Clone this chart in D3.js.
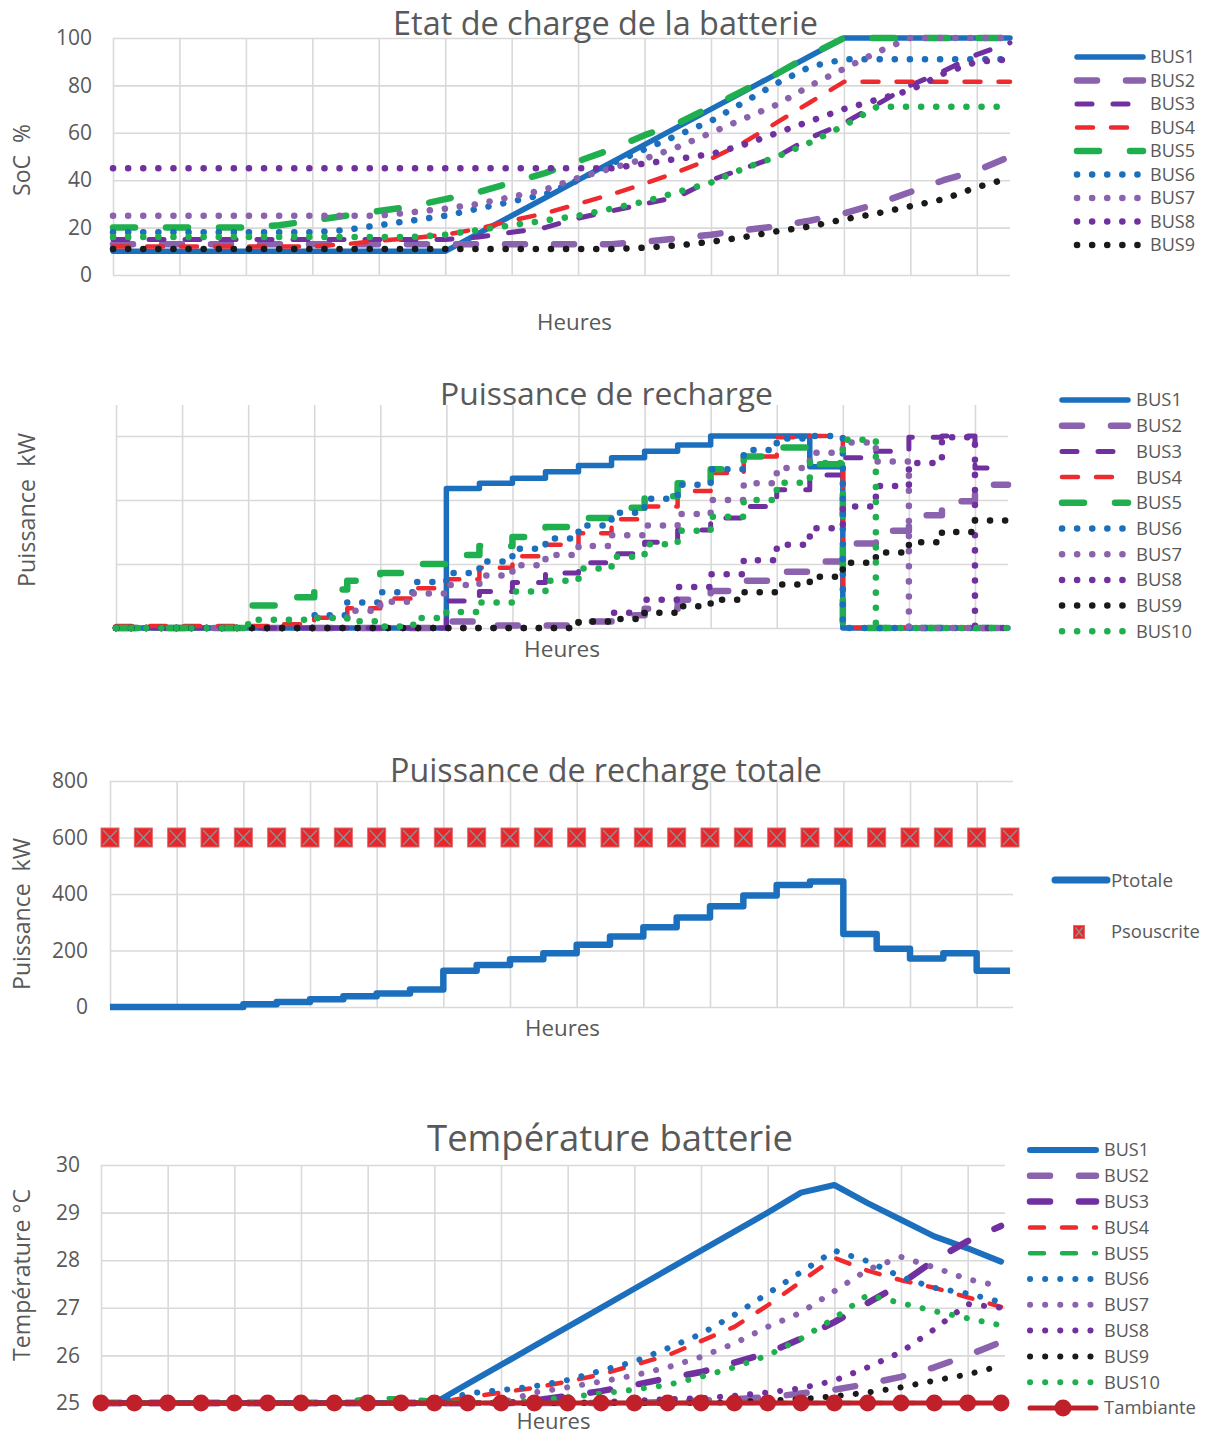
<!DOCTYPE html>
<html><head><meta charset="utf-8">
<script src="https://cdn.jsdelivr.net/npm/d3@7"></script>
<style>body{margin:0;background:#fff}svg{display:block}text{white-space:pre}</style>
</head><body>
<script>
// ---------- DATA ----------
const hours = [0,1,2,3,4,5,6,7,8,9,10,11,12,13,14,15,16,17,18,19,20,21,22,23,24,25,26,27];
const gridHours = [0,2,4,6,8,10,12,14,16,18,20,22,24,26];
const busNames = ["BUS1","BUS2","BUS3","BUS4","BUS5","BUS6","BUS7","BUS8","BUS9","BUS10"];

// Etat de charge (SoC %)
const soc1 = [10,10,10,10,10,10,10,10,10,10,10,17.5,25,32.5,40,47.5,55,62.5,70,77.5,85,92.5,100,100,100,100,100,100];
const soc2 = [13,13,13,13,13,13,13,13,13,13,13,13,13,13,13,13,14,15.5,17,19,20.5,23,26,30,35,40,44,50];
const soc3 = [15,15,15,15,15,15,15,15,15,15,15,16,18,20,24,27,30,33,40,45,50,58,64,72,80,86,93,98];
const soc4 = [12,12,12,12,12,12,12,13,14.5,15.5,17,19.5,23,26,30,34,38.5,43.5,49,56,64.5,73,81.5,81.5,81.5,81.5,81.5,81.5];
const soc5 = [20,20,20,20,20,21,23,25,27,29,32,35,39,43,48,53,59,64,71,78,85,93,100,100,100,100,100,100];
const soc6 = [18,18,18,18,18,18,18,19,21,23,25,28,31,34,40,47,53,59,65,73,81,88,91,91,91,91,91,91];
const soc7 = [25,25,25,25,25,25,25,25,25,26.5,28,30,33,36,41,45,49,54,60,66,72,80,87,94,100,100,100,100];
const soc8 = [45,45,45,45,45,45,45,45,45,45,45,45,45,45,45,45,47,49,51,55,60,65,70,74,78,85,90,91];
const soc9 = [11,11,11,11,11,11,11,11,11,11,11,11,11,11,11,11,11.5,12.5,14,16,18.5,20.5,23.5,26,29,32,37,41];
const soc10 = [16,16,16,16,16,16,16,16,16,16,17,19,21,23,25,28,31,35,39,45,50,56,63,71,71,71,71,71];

// Puissance de recharge (kW)
const pw1 = [0,0,0,0,0,0,0,0,0,0,43.6,45.2,46.8,48.8,50.8,53.2,55.2,57.2,60,60,60,50.4,0,0,0,0,0,0];
const pw2 = [0,0,0,0,0,0,0,0,0,0,2,0.8,0.8,0.8,2,4,6,8.8,11.6,14.8,17.6,20.8,26.4,30.4,35.2,39.6,44.8,44.8];
const pw3 = [0,0,0,0,0,0,0,0,0,0,8.4,11.4,14.2,17.2,20.4,23.2,26.8,30.6,34.4,38,43.2,47.8,53.2,55.2,59.6,60,50,50];
const pw4 = [0.6,0.6,0.6,0.6,0.6,1.2,3.2,6.2,9.2,12.4,15.2,18.8,22.4,26,29.6,34,38,42.8,48.4,53.6,59.6,60,0,0,0,0,0,0];
const pw5 = [0,0,0,0,7,9.6,12,14.8,17.2,20,22.8,25.6,28.4,31.6,34.4,37.6,41.2,45.2,49.6,53.6,56.4,51.2,0,0,0,0,0,0];
const pw6 = [0,0,0,0,0,0,4,8,11.2,14.4,17.2,20.8,24.8,28,32,36,40.4,44.8,49.6,55.6,59.2,60,0,0,0,0,0,0];
const pw7 = [0,0,0,0,0,0,3.2,5.4,8.2,10.8,13.4,16.4,19.6,22.8,25.6,29,32,35.6,40,45.2,50,54.8,58,52,0,0,0,0];
const pw8 = [0,0,0,0,0,0,0,0,0,0,0,0,0,0,2,4.8,8.8,12.8,16.8,21.2,26,31.2,38,44.4,51.6,59.6,0,0];
const pw9 = [0,0,0,0,0,0,0,0,0,0,0,0,0,0,2,2.8,4.8,6.8,8.8,11.2,13.6,16,20.4,23.6,26.8,30,33.6,33.6];
const pw10 = [0,0,0,0,2.6,2.6,3.1,2.1,0.5,3.1,5,8,11.4,14.8,18.6,22.3,26.2,30.4,34.8,40,45.4,51.6,58.8,0,0,0,0,0];

// Puissance de recharge totale (kW)
const pTotale = [0,0,0,0,10,18,27,38,48,62,128,149,169,190,220,250,282,317,357,395,432,444,258,206,172,190,128,128];
const pSouscrite = [600,600,600,600,600,600,600,600,600,600,600,600,600,600,600,600,600,600,600,600,600,600,600,600,600,600,600,600];

// Température batterie (°C)
const tb1 = [25,25,25,25,25,25,25,25,25,25,25,25.4,25.8,26.2,26.6,27.0,27.4,27.8,28.2,28.6,29.0,29.42,29.58,29.2,28.85,28.5,28.25,27.97];
const tb2 = [25,25,25,25,25,25,25,25,25,25,25,25,25,25,25,25,25,25.02,25.05,25.08,25.12,25.2,25.28,25.4,25.55,25.75,26.0,26.28];
const tb3 = [25,25,25,25,25,25,25,25,25,25,25,25,25,25.05,25.15,25.25,25.38,25.52,25.65,25.85,26.05,26.35,26.7,27.1,27.5,28.0,28.4,28.72];
const tb4 = [25,25,25,25,25,25,25,25,25,25,25,25.12,25.22,25.32,25.45,25.6,25.8,26.0,26.3,26.6,27.05,27.55,28.05,27.78,27.58,27.42,27.22,27.02];
const tb5 = [25,25,25,25,25,25,25,25,25.1,25.1,25.05,25,25,25,25,25,25,25,25,25,25,25,25,25,25,25,25,25];
const tb6 = [25,25,25,25,25,25,25,25,25,25,25,25.2,25.27,25.35,25.48,25.68,25.87,26.15,26.45,26.85,27.3,27.75,28.2,27.98,27.65,27.42,27.3,27.12];
const tb7 = [25,25,25,25,25,25,25,25,25,25,25,25,25,25.22,25.33,25.45,25.58,25.75,25.97,26.25,26.6,26.9,27.35,27.8,28.07,27.85,27.6,27.45];
const tb8 = [25,25,25,25,25,25,25,25,25,25,25,25,25,25,25,25.02,25.05,25.08,25.1,25.15,25.22,25.31,25.47,25.75,26.07,26.55,27.08,27.0];
const tb9 = [25,25,25,25,25,25,25,25,25,25,25,25,25,25,25,25,25,25,25,25.02,25.05,25.08,25.14,25.22,25.33,25.47,25.6,25.78];
const tb10 = [25,25,25,25,25,25,25,25,25,25,25,25,25,25.05,25.12,25.2,25.28,25.38,25.55,25.75,26.0,26.35,26.78,27.27,27.1,26.93,26.78,26.63];
const tAmbiante = [25,25,25,25,25,25,25,25,25,25,25,25,25,25,25,25,25,25,25,25,25,25,25,25,25,25,25,25];

const socTicks = [0,20,40,60,80,100];
const pwTicks = [0,20,40,60];
const ptotTicks = [0,200,400,600,800];
const tempTicks = [25,26,27,28,29,30];

// ---------- STYLE ----------
const FONT = "'Open Sans', 'Noto Sans', sans-serif";
const TXT = "#595959", GRID = "#d9d9d9";
const BLUE = "#1b6fbd", LP = "#8a62ad", DP = "#7030a0", RED = "#ee2a2e", GREEN = "#1faf4e", BLACK = "#1a1a1a", DRED = "#c0202a";
const colors = [BLUE, LP, DP, RED, GREEN, BLUE, LP, DP, BLACK, GREEN];
const DOT = "0.1,15";
const styleA = [ // SoC & power panels
  {w:5.5, d:null}, {w:6.5, d:"20,29"}, {w:5, d:"15,21"}, {w:4.5, d:"16,18"}, {w:6.5, d:"22,31"},
  {w:6.5, d:DOT}, {w:6.5, d:DOT}, {w:6.5, d:DOT}, {w:6.5, d:DOT}, {w:6.5, d:DOT}];
const styleT = [ // temperature panel
  {w:6, d:null}, {w:6.5, d:"20,29"}, {w:6.5, d:"20,29"}, {w:4.5, d:"14,18"}, {w:4.5, d:"14,18"},
  {w:6, d:DOT}, {w:6, d:DOT}, {w:6, d:DOT}, {w:6, d:DOT}, {w:6, d:DOT}];

const svg = d3.select("body").append("svg").attr("width",1207).attr("height",1436)
  .attr("font-family", FONT);
svg.append("rect").attr("width",1207).attr("height",1436).attr("fill","#fff");

function fit(sel, w){ const L = sel.node().getComputedTextLength(); const fs = +sel.attr("font-size"); sel.attr("font-size", fs*w/L); return sel; }
function text(x, y, s, size, w, anchor="middle", rot=false){
  const t = svg.append("text").attr("fill",TXT).attr("font-size",size).attr("text-anchor",anchor).text(s);
  if (rot) t.attr("transform",`translate(${x},${y}) rotate(-90)`).attr("dy","0.35em");
  else t.attr("x",x).attr("y",y);
  if (w) fit(t,w);
  return t;
}

function panel(c){
  const x = d3.scaleLinear().domain([0,27]).range([c.x0, c.x1]);
  const y = d3.scaleLinear().domain(c.yDomain).range([c.yB, c.yT]);
  const gx = svg.append("g").attr("transform",`translate(0,${c.gB})`)
    .call(d3.axisBottom(x).tickValues(gridHours).tickSize(-(c.gB - c.gT)).tickFormat(""));
  gx.select(".domain").remove();
  gx.selectAll("line").attr("stroke",GRID).attr("stroke-width",1.6);
  const gy = svg.append("g").attr("transform",`translate(${c.x0},0)`)
    .call(d3.axisLeft(y).tickValues(c.ticks).tickSize(-(c.gR - c.x0)).tickPadding(c.pad||20)
      .tickFormat(c.labels ? d3.format("d") : ""));
  gy.select(".domain").remove();
  gy.selectAll("line").attr("stroke",GRID).attr("stroke-width",1.6);
  gy.selectAll("text").attr("font-size",21).attr("fill",TXT).attr("font-family",FONT);
  return {x,y};
}

function drawSeries(sc, arr, color, st, curve){
  const line = d3.line().x((d,i)=>sc.x(hours[i])).y(d=>sc.y(d)).curve(curve||d3.curveLinear);
  const p = svg.append("path").datum(arr).attr("d",line).attr("fill","none")
    .attr("stroke",color).attr("stroke-width",st.w).attr("stroke-linecap","round").attr("stroke-linejoin","round");
  if (st.d) p.attr("stroke-dasharray",st.d);
  return p;
}
function legendLine(x1, x2, y, color, st){
  const l = svg.append("line").attr("x1",x1).attr("x2",x2).attr("y1",y).attr("y2",y)
    .attr("stroke",color).attr("stroke-width",st.w).attr("stroke-linecap","round");
  if (st.d) l.attr("stroke-dasharray",st.d);
}

// ---------- PANEL 1 : SoC ----------
{
  const sc = panel({x0:113, x1:1010, yDomain:[0,100], yB:275, yT:38, gB:275, gT:38, gR:1010, ticks:socTicks, labels:true, pad:21});
  const soc = [soc1,soc2,soc3,soc4,soc5,soc6,soc7,soc8,soc9,soc10];
  soc.forEach((a,i)=>drawSeries(sc, a, colors[i], styleA[i]));
  text(605.5, 35, "Etat de charge de la batterie", 28, 425);
  text(22, 160, "SoC  %", 20, 72, "middle", true);
  text(574.5, 330, "Heures", 20, 75);
  for (let i=0;i<9;i++){
    const yy = 57 + i*23.5;
    legendLine(1077, 1143, yy, colors[i], styleA[i]);
    text(1150, yy, busNames[i], 17, 45, "start").attr("dy","0.35em");
  }
}

// ---------- PANEL 2 : Puissance de recharge ----------
{
  const sc = panel({x0:116, x1:1008, yDomain:[0,70], yB:628, yT:404, gB:628, gT:405, gR:1008, ticks:pwTicks, labels:false});
  const pw = [pw1,pw2,pw3,pw4,pw5,pw6,pw7,pw8,pw9,pw10];
  pw.forEach((a,i)=>drawSeries(sc, a, colors[i], styleA[i], d3.curveStepAfter));
  text(606.5, 405, "Puissance de recharge", 28, 333);
  text(27, 510, "Puissance  kW", 20, 154, "middle", true);
  text(562, 657, "Heures", 20, 76);
  for (let i=0;i<10;i++){
    const yy = 400 + i*25.7;
    legendLine(1062, 1128, yy, colors[i], styleA[i]);
    text(1136, yy, busNames[i], 17, i==9?56:46, "start").attr("dy","0.35em");
  }
}

// ---------- PANEL 3 : Puissance de recharge totale ----------
function xMarker(g, cx, cy, w, h){
  g.append("rect").attr("x",cx-w/2).attr("y",cy-h/2).attr("width",w).attr("height",h)
    .attr("fill","#e8262b").attr("stroke","#e06a6a").attr("stroke-width",1);
  g.append("path").attr("d",`M${cx-w/2+2},${cy-h/2+2}L${cx+w/2-2},${cy+h/2-2}M${cx+w/2-2},${cy-h/2+2}L${cx-w/2+2},${cy+h/2-2}`)
    .attr("stroke","#8f8f8f").attr("stroke-width",1.4).attr("fill","none");
}
{
  const sc = panel({x0:110, x1:1010, yDomain:[0,800], yB:1007, yT:781, gB:1007, gT:781, gR:1013, ticks:ptotTicks, labels:true, pad:22});
  const gm = svg.append("g");
  pSouscrite.forEach((v,i)=>xMarker(gm, sc.x(hours[i]), sc.y(v), 18, 19));
  drawSeries(sc, pTotale, BLUE, {w:6.5, d:null}, d3.curveStepAfter).attr("stroke-linecap","butt");
  text(606, 782, "Puissance de recharge totale", 28, 432);
  text(22, 914, "Puissance  kW", 20, 152, "middle", true);
  text(562.5, 1036, "Heures", 20, 75);
  legendLine(1055, 1107, 880, BLUE, {w:7, d:null});
  text(1111, 880, "Ptotale", 17, 62, "start").attr("dy","0.35em");
  xMarker(svg.append("g"), 1079, 932, 11, 13);
  text(1111, 932, "Psouscrite", 17, 89, "start").attr("dy","0.35em");
}

// ---------- PANEL 4 : Température batterie ----------
{
  const sc = panel({x0:101, x1:1001, yDomain:[25,30], yB:1403, yT:1165, gB:1403, gT:1165, gR:1005, ticks:tempTicks, labels:true, pad:21});
  const tb = [tb1,tb2,tb3,tb4,tb5,tb6,tb7,tb8,tb9,tb10];
  tb.forEach((a,i)=>drawSeries(sc, a, colors[i], styleT[i]));
  drawSeries(sc, tAmbiante, DRED, {w:5, d:null});
  svg.append("g").selectAll("circle").data(tAmbiante).join("circle")
    .attr("cx",(d,i)=>sc.x(hours[i])).attr("cy",d=>sc.y(d)).attr("r",8.5).attr("fill",DRED);
  text(610, 1151, "Température batterie", 33, 366);
  text(22, 1275, "Température °C", 20, 172, "middle", true);
  text(553.5, 1429, "Heures", 20, 74);
  for (let i=0;i<10;i++){
    const yy = 1150 + i*25.8;
    legendLine(1030, 1096, yy, colors[i], styleT[i]);
    text(1104, yy, busNames[i], 17, i==9?56:45, "start").attr("dy","0.35em");
  }
  const yy = 1150 + 10*25.8;
  legendLine(1030, 1096, yy, DRED, {w:5, d:null});
  svg.append("circle").attr("cx",1063).attr("cy",yy).attr("r",8.5).attr("fill",DRED);
  text(1104, yy, "Tambiante", 17, 92, "start").attr("dy","0.35em");
}
</script>
</body></html>
